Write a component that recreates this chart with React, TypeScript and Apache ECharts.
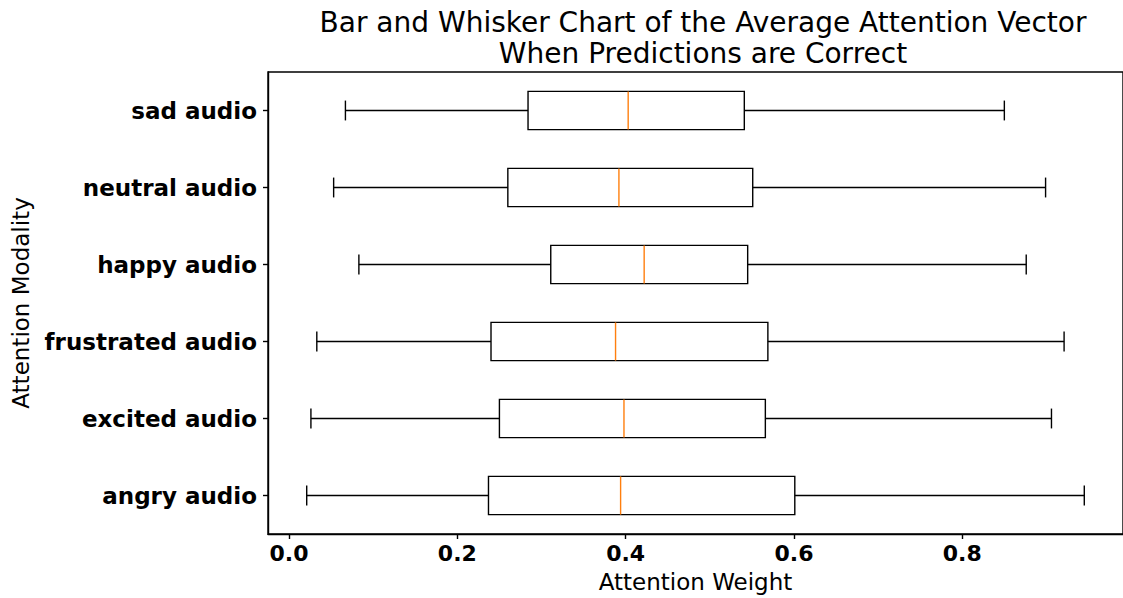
import React, { useEffect, useRef } from "react";
import * as echarts from "echarts";

const categories = [
  "angry audio",
  "excited audio",
  "frustrated audio",
  "happy audio",
  "neutral audio",
  "sad audio",
];
const whiskerLow = [0.021, 0.026, 0.033, 0.083, 0.053, 0.067];
const q1 = [0.237, 0.250, 0.240, 0.311, 0.260, 0.284];
const median = [0.394, 0.398, 0.388, 0.422, 0.392, 0.403];
const q3 = [0.601, 0.566, 0.569, 0.545, 0.551, 0.541];
const whiskerHigh = [0.945, 0.906, 0.921, 0.876, 0.899, 0.850];
const xTicks = [0, 0.2, 0.4, 0.6, 0.8];

const FONT = "DejaVu Sans";

export default function App() {
  const ref = useRef<HTMLDivElement>(null);
  useEffect(() => {
    if (!ref.current) return;
    const chart = echarts.init(ref.current, null, { renderer: "svg" });
    const data = categories.map((_, i) => [
      i,
      whiskerLow[i],
      q1[i],
      median[i],
      q3[i],
      whiskerHigh[i],
    ]);
    const lw = 1.4;
    chart.setOption({
      animation: false,
      backgroundColor: "#ffffff",
      title: {
        text: "Bar and Whisker Chart of the Average Attention Vector\nWhen Predictions are Correct",
        left: 698,
        top: 2,
        textAlign: "center",
        textStyle: {
          fontFamily: FONT,
          fontSize: 28,
          fontWeight: "normal",
          color: "#000",
          lineHeight: 31,
        },
      },
      grid: {
        left: 268,
        top: 72,
        bottom: 61,
        right: -5,
        show: true,
        borderColor: "#000",
        borderWidth: lw,
        backgroundColor: "transparent",
        containLabel: false,
      },
      xAxis: {
        type: "value",
        min: -0.025,
        max: 0.991,
        name: "Attention Weight",
        nameLocation: "middle",
        nameGap: 36,
        nameTextStyle: { fontFamily: FONT, fontSize: 23, color: "#000" },
        axisLine: { show: true, onZero: false, lineStyle: { color: "#000", width: lw } },
        axisTick: {
          show: true,
          length: 5,
          customValues: xTicks,
          lineStyle: { color: "#000", width: lw },
        },
        axisLabel: {
          customValues: xTicks,
          formatter: (v: number) => v.toFixed(1),
          fontFamily: FONT,
          fontSize: 22,
          fontWeight: "bold",
          color: "#000",
          margin: 8,
        },
        splitLine: { show: false },
      },
      yAxis: {
        type: "category",
        data: categories,
        name: "Attention Modality",
        nameLocation: "middle",
        nameGap: 236,
        nameTextStyle: { fontFamily: FONT, fontSize: 23, color: "#000" },
        axisLine: { show: true, onZero: false, lineStyle: { color: "#000", width: lw } },
        axisTick: {
          show: true,
          length: 5,
          alignWithLabel: true,
          lineStyle: { color: "#000", width: lw },
        },
        axisLabel: {
          fontFamily: FONT,
          fontSize: 23,
          fontWeight: "bold",
          color: "#000",
          margin: 11,
        },
        splitLine: { show: false },
      },
      series: [
        {
          type: "custom",
          data,
          encode: { x: [1, 2, 3, 4, 5], y: 0 },
          renderItem: (params: any, api: any) => {
            const cat = api.value(0);
            const px = (v: number) => api.coord([v, cat])[0];
            const y = api.coord([api.value(3), cat])[1];
            const band = api.size([0, 1])[1];
            const half = band * 0.248;
            const capHalf = band * 0.129;
            const xMin = px(api.value(1));
            const xQ1 = px(api.value(2));
            const xMed = px(api.value(3));
            const xQ3 = px(api.value(4));
            const xMax = px(api.value(5));
            const black = { stroke: "#000", lineWidth: lw, fill: "none" };
            return {
              type: "group",
              children: [
                { type: "line", shape: { x1: xMin, y1: y, x2: xQ1, y2: y }, style: black },
                { type: "line", shape: { x1: xQ3, y1: y, x2: xMax, y2: y }, style: black },
                { type: "line", shape: { x1: xMin, y1: y - capHalf, x2: xMin, y2: y + capHalf }, style: black },
                { type: "line", shape: { x1: xMax, y1: y - capHalf, x2: xMax, y2: y + capHalf }, style: black },
                {
                  type: "rect",
                  shape: { x: xQ1, y: y - half, width: xQ3 - xQ1, height: 2 * half },
                  style: { stroke: "#000", lineWidth: lw, fill: "rgba(0,0,0,0)" },
                },
                {
                  type: "line",
                  shape: { x1: xMed, y1: y - half, x2: xMed, y2: y + half },
                  style: { stroke: "#ff7f0e", lineWidth: lw, fill: "none" },
                },
              ],
            };
          },
        },
      ],
    });
    return () => chart.dispose();
  }, []);
  return (
    <div
      ref={ref}
      style={{ position: "absolute", left: 0, top: 0, width: 1123, height: 598 }}
    />
  );
}
